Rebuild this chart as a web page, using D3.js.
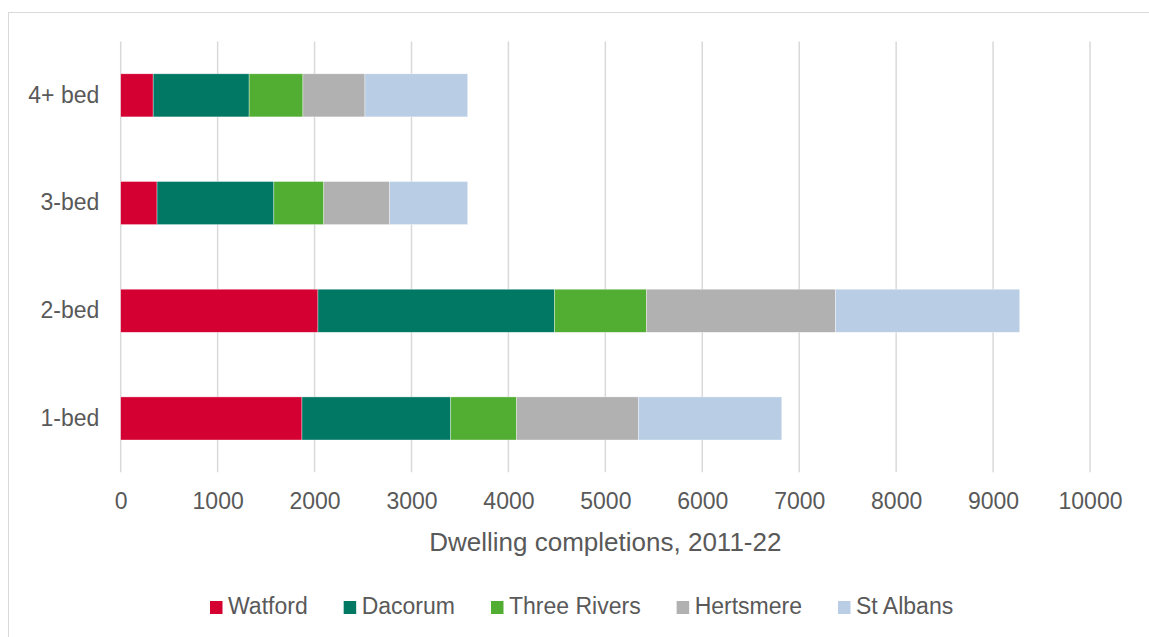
<!DOCTYPE html>
<html>
<head>
<meta charset="utf-8">
<script src="https://cdn.jsdelivr.net/npm/d3@7"></script>
<style>
  body { margin: 0; background: #fff; }
  text { font-family: "Liberation Sans", Arial, sans-serif; fill: #595959; }
</style>
</head>
<body>
<div id="chart"></div>
<script>
const categories = ['4+ bed', '3-bed', '2-bed', '1-bed'];
const districts = ['Watford', 'Dacorum', 'Three Rivers', 'Hertsmere', 'St Albans'];
const watford = [335, 375, 2035, 1870];
const dacorum = [990, 1205, 2440, 1535];
const threeRivers = [555, 515, 950, 680];
const hertsmere = [640, 680, 1950, 1255];
const stAlbans = [1060, 805, 1900, 1480];
const xTicks = [0, 1000, 2000, 3000, 4000, 5000, 6000, 7000, 8000, 9000, 10000];
const xTitle = 'Dwelling completions, 2011-22';

const colors = ['#d50032', '#007864', '#52ae32', '#b1b1b1', '#b9cde5'];

const width = 1149;
const height = 637;
const fontFamily = '"Liberation Sans", Arial, sans-serif';

const seriesValues = [watford, dacorum, threeRivers, hertsmere, stAlbans];
const rows = categories.map((c, i) => {
    const row = { category: c };
    districts.forEach((d, j) => { row[d] = seriesValues[j][i]; });
    return row;
});

const svg = d3.select('#chart').append('svg')
    .attr('width', width)
    .attr('height', height);

// chart frame (runs off the right and bottom like the original)
svg.append('rect')
    .attr('x', 8.5)
    .attr('y', 12.5)
    .attr('width', width)
    .attr('height', height)
    .style('fill', 'none')
    .style('stroke', '#d9d9d9')
    .style('stroke-width', 1);

const x = d3.scaleLinear().domain([0, 10000]).range([120.7, 1090]);
const y = d3.scaleBand().domain(categories).range([41.5, 472.3])
    .paddingInner(0.6).paddingOuter(0.3);

// gridlines
svg.append('g')
    .selectAll('line')
    .data(xTicks)
    .join('line')
    .attr('x1', d => x(d))
    .attr('x2', d => x(d))
    .attr('y1', 41.5)
    .attr('y2', 472.3)
    .style('stroke', '#d9d9d9')
    .style('stroke-width', 1.5);

// bars
const stacked = d3.stack().keys(districts)(rows);
svg.append('g')
    .selectAll('g')
    .data(stacked)
    .join('g')
    .style('fill', (d, i) => colors[i])
    .selectAll('rect')
    .data(d => d)
    .join('rect')
    .attr('x', d => x(d[0]))
    .attr('y', d => y(d.data.category))
    .attr('width', d => x(d[1]) - x(d[0]))
    .attr('height', y.bandwidth())
    .style('stroke', '#fff')
    .style('stroke-width', 0.6)
    .style('stroke-opacity', 0.6);

// x axis labels
const xAxis = svg.append('g')
    .attr('transform', 'translate(0,' + 472.3 + ')')
    .call(d3.axisBottom(x).tickValues(xTicks).tickFormat(d3.format('d')).tickSize(0).tickPadding(20));
xAxis.select('.domain').remove();
xAxis.selectAll('text')
    .style('font-size', '23px')
    .style('fill', '#595959')
    .style('font-family', fontFamily);

// y axis labels
const yAxis = svg.append('g')
    .attr('transform', 'translate(' + 120.7 + ',0)')
    .call(d3.axisLeft(y).tickSize(0).tickPadding(21.4));
yAxis.select('.domain').remove();
yAxis.selectAll('text')
    .style('font-size', '23px')
    .style('fill', '#595959')
    .style('font-family', fontFamily);

// axis title
svg.append('text')
    .attr('x', (x(0) + x(10000)) / 2)
    .attr('y', 551)
    .attr('text-anchor', 'middle')
    .style('font-size', '26px')
    .text(xTitle);

// legend
const legend = svg.append('g').attr('transform', 'translate(210,614)');
let lx = 0;
districts.forEach((d, i) => {
    const item = legend.append('g').attr('transform', 'translate(' + lx + ',0)');
    item.append('rect')
        .attr('x', 0)
        .attr('y', -13)
        .attr('width', 12.5)
        .attr('height', 13)
        .style('fill', colors[i]);
    const t = item.append('text')
        .attr('x', 18)
        .attr('y', 0)
        .style('font-size', '23px')
        .text(d);
    lx += 18 + t.node().getComputedTextLength() + 36;
});
</script>
</body>
</html>
